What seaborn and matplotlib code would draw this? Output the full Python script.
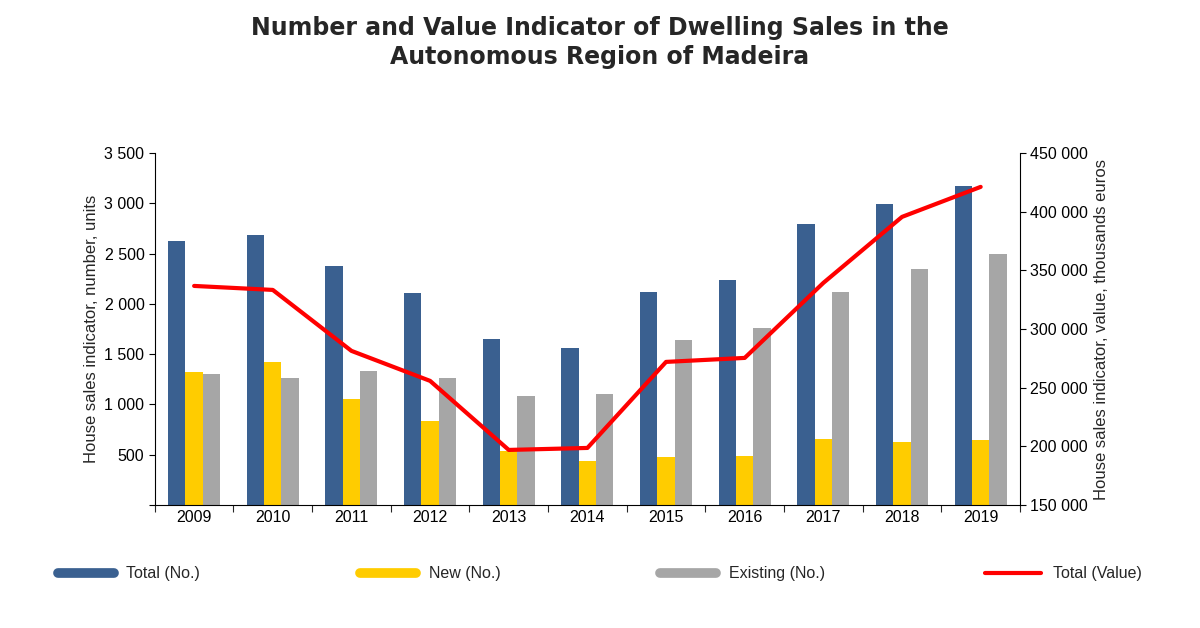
import matplotlib
matplotlib.use("Agg")
import matplotlib.pyplot as plt
import seaborn as sns
import numpy as np
import pandas as pd
from matplotlib.lines import Line2D
from matplotlib.ticker import FuncFormatter, MultipleLocator

years = ["2009","2010","2011","2012","2013","2014","2015","2016","2017","2018","2019"]
total_no = [2630, 2690, 2380, 2110, 1650, 1560, 2120, 2240, 2800, 2990, 3170]
new_no = [1320, 1420, 1050, 840, 540, 440, 480, 490, 660, 630, 650]
existing_no = [1300, 1260, 1330, 1260, 1080, 1100, 1640, 1760, 2120, 2350, 2500]
total_value = [336800, 333400, 281400, 255800, 196900, 198600, 272000, 275400, 339400, 395700, 421300]
series = ["Total (No.)", "New (No.)", "Existing (No.)"]
colors = ["#3A6090", "#FFCC00", "#A6A6A6"]

sns.set_theme(style="white")
plt.rcParams['font.family'] = ['Liberation Sans', 'DejaVu Sans']

df = pd.DataFrame({
    "year": years * 3,
    "series": [series[0]] * 11 + [series[1]] * 11 + [series[2]] * 11,
    "value": total_no + new_no + existing_no,
})

fig = plt.figure(figsize=(12, 6.28), dpi=100)
ax = fig.add_axes([0.129, 0.196, 0.721, 0.56])
sns.barplot(data=df, x="year", y="value", hue="series", palette=colors,
            width=0.66, gap=0, ax=ax, legend=False, saturation=1, linewidth=0)
ax.set_ylim(0, 3500)
ax.yaxis.set_major_locator(MultipleLocator(500))
sp = lambda v, p: "" if v == 0 else f"{int(v):,}".replace(",", " ")
ax.yaxis.set_major_formatter(FuncFormatter(sp))
ax.set_xlim(-0.5, 10.5)
ax.set_xlabel("")
ax.set_ylabel("House sales indicator, number, units", fontsize=12)
ax.tick_params(axis="both", labelsize=11.5, length=0, colors="black")
ax.tick_params(axis="y", left=True, length=4, width=0.8)
ax.set_xticks(np.arange(-0.5, 11, 1), minor=True)
ax.tick_params(axis="x", which="minor", bottom=True, length=5, width=0.8)
for s in ["top", "right"]:
    ax.spines[s].set_visible(False)
for s in ["left", "bottom"]:
    ax.spines[s].set_color("black"); ax.spines[s].set_linewidth(0.8)

ax2 = ax.twinx()
sns.lineplot(x=np.arange(len(years)), y=total_value, color="#FF0000", linewidth=3, ax=ax2)
ax2.set_ylim(150000, 450000)
ax2.yaxis.set_major_locator(MultipleLocator(50000))
ax2.yaxis.set_major_formatter(FuncFormatter(lambda v, p: f"{int(v):,}".replace(",", " ")))
ax2.set_ylabel("House sales indicator, value, thousands euros", fontsize=12)
ax2.tick_params(axis="y", labelsize=11.5, right=True, length=4, width=0.8, colors="black")
for s in ["top", "left", "bottom"]:
    ax2.spines[s].set_visible(False)
ax2.spines["right"].set_color("black"); ax2.spines["right"].set_linewidth(0.8)

fig.suptitle("Number and Value Indicator of Dwelling Sales in the\nAutonomous Region of Madeira",
             fontsize=17, fontweight="bold", family="DejaVu Sans", y=0.975, linespacing=1.3)

handles = [Line2D([], [], color=colors[0], lw=7), Line2D([], [], color=colors[1], lw=7),
           Line2D([], [], color=colors[2], lw=7), Line2D([], [], color="#FF0000", lw=3)]
fig.legend(handles, series + ["Total (Value)"], loc="center", bbox_to_anchor=(0.5, 0.086),
           ncol=4, frameon=False, fontsize=11.5, handlelength=3.5, columnspacing=10)
fig.savefig("out.png", dpi=100)
